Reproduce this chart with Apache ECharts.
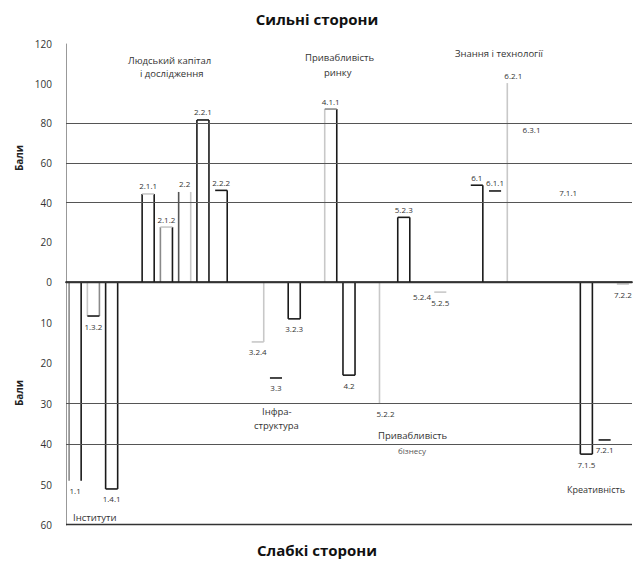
<!DOCTYPE html>
<html>
<head>
<meta charset="utf-8">
<script src="https://cdn.jsdelivr.net/npm/echarts@6/dist/echarts.min.js"></script>
<style>html,body{margin:0;padding:0;background:#fff}#c{width:634px;height:561px}</style>
</head>
<body>
<div id="c"></div>
<script>
// ---- data ----
const categories = ['1.1','1.3.2','1.4.1',' ','2.1.1','2.1.2','2.2','2.2.1','2.2.2','  ','3.2.4','3.3','3.2.3','   ','4.1.1','4.2','    ','5.2.2','5.2.3','5.2.4','5.2.5','     ','6.1','6.1.1','6.2.1','6.3.1','      ','7.1.1','7.1.5','7.2.1','7.2.2'];
const strengths = [null,null,null,null,44.4,27.7,45.4,81.7,46.2,null,null,null,null,null,87.2,null,null,null,32.6,null,null,null,48.8,45.9,100.3,73,null,41,null,null,null];
const weaknesses = [49.1,8.4,51.1,null,null,null,null,null,null,null,14.8,23.7,9.1,null,null,23,null,30.1,null,1,2.5,null,null,null,null,null,null,null,42.5,39,0.5];
const topTicks = [0,20,40,60,80,100,120];
const bottomTicks = [0,10,20,30,40,50,60];
const topGridValues = [80,60,40];
const bottomGridValues = [30,40];
const topGroups = [['Людський капітал','і дослідження'],['Привабливість','ринку'],['Знання і технології']];
const bottomGroups = [['Інститути'],['Інфра-','структура'],['Привабливість','бізнесу'],['Креативність']];

// ---- styles (edge colours: left, right, end) ----
const K = '#1a1a1a', G = '#8a8a8a', L = '#c8c8c8', D = '#555';
const edgeStyle = {
  '2.1.1':[K,K,L], '2.1.2':[G,K,L], '2.2':[D,L,null], '2.2.1':[K,K,K], '2.2.2':[null,K,K],
  '4.1.1':[L,K,G], '5.2.3':[K,K,K], '6.1':[null,K,K], '6.1.1':[null,null,K], '6.2.1':[L,null,null],
  '1.1':[G,K,null], '1.3.2':[L,G,K], '1.4.1':[K,K,K], '3.2.4':[null,L,L], '3.3':[null,null,K],
  '3.2.3':[K,K,K], '4.2':[K,K,K], '5.2.2':[L,null,null], '5.2.5':[null,null,L],
  '7.1.5':[K,K,K], '7.2.1':[null,null,K], '7.2.2':[null,null,L]
};
const FONT = 'Open Sans';

function makeRender(isTop) {
  return function (params, api) {
    const idx = api.value(0), val = api.value(1);
    const base = api.coord([idx, 0]);
    const end = api.coord([idx, val]);
    const band = api.size([1, 0])[0];
    const w = band * 0.66;
    const x0 = base[0] - w / 2, x1 = base[0] + w / 2;
    const code = categories[idx];
    const st = edgeStyle[code] || [null, null, null];
    const ch = [];
    if (!isTop) {
      ch.push({type:'rect', shape:{x:x0, y:Math.min(base[1], end[1]), width:w, height:Math.abs(end[1]-base[1])}, style:{fill:'#fff'}});
    }
    const lw = 1.6;
    if (st[0]) ch.push({type:'line', shape:{x1:x0, y1:base[1], x2:x0, y2:end[1]}, style:{stroke:st[0], lineWidth:lw}});
    if (st[1]) ch.push({type:'line', shape:{x1:x1, y1:base[1], x2:x1, y2:end[1]}, style:{stroke:st[1], lineWidth:lw}});
    if (st[2]) ch.push({type:'line', shape:{x1:x0, y1:end[1], x2:x1, y2:end[1]}, style:{stroke:st[2], lineWidth:lw}});
    ch.push({type:'text', style:{text:code, x:base[0], y:isTop ? end[1]-8 : end[1]+10, align:'center', verticalAlign:'middle', font:'8px "' + FONT + '"', fill:'#333'}});
    return {type:'group', children: ch};
  };
}

const topData = [], botData = [];
categories.forEach((c, i) => {
  if (strengths[i] != null) topData.push([i, strengths[i]]);
  if (weaknesses[i] != null) botData.push([i, weaknesses[i]]);
});

const txt = (x, y, t, size, color) => ({type:'text', left:x, top:y, style:{text:t, font:size + 'px "' + FONT + '"', fill:color || '#333'}});

const chart = echarts.init(document.getElementById('c'), null, {renderer:'svg'});
const tickLabel = {fontFamily:FONT, fontSize:10, color:'#333', margin:14};
chart.setOption({
  animation:false,
  title:[
    {text:'Сильні сторони', left:'center', top:6, textStyle:{fontFamily:FONT, fontSize:15, fontWeight:'bold', color:'#111'}},
    {text:'Слабкі сторони', left:'center', top:537, textStyle:{fontFamily:FONT, fontSize:15, fontWeight:'bold', color:'#111'}}
  ],
  grid:[
    {left:66, right:2, top:44, height:238},
    {left:66, right:2, top:282, height:243}
  ],
  xAxis:[
    {gridIndex:0, type:'category', data:categories, position:'bottom', z:10,
     axisLine:{onZero:false, lineStyle:{color:'#111', width:1.5}}, axisTick:{show:false}, axisLabel:{show:false}},
    {gridIndex:1, type:'category', data:categories, position:'top', z:10,
     axisLine:{show:true, onZero:false, lineStyle:{color:'#333', width:1.4}}, axisTick:{show:false}, axisLabel:{show:false}}
  ],
  yAxis:[
    {gridIndex:0, type:'value', min:0, max:120, interval:20,
     axisLine:{show:true, lineStyle:{color:'#999'}}, axisTick:{show:false}, splitLine:{show:false},
     axisLabel:Object.assign({formatter: v => topTicks.includes(v) ? String(v) : ''}, tickLabel)},
    {gridIndex:1, type:'value', min:0, max:60, interval:10, inverse:true,
     axisLine:{show:true, lineStyle:{color:'#999'}}, axisTick:{show:false}, splitLine:{show:false},
     axisLabel:Object.assign({showMinLabel:false, formatter: v => bottomTicks.includes(v) && v !== 0 ? String(v) : ''}, tickLabel)}
  ],
  series:[
    {type:'line', xAxisIndex:0, yAxisIndex:0, data:[], z:1, silent:true,
     markLine:{silent:true, symbol:'none', label:{show:false}, lineStyle:{color:'#555', width:1.2, type:'solid'},
       data: topGridValues.map(v => ({yAxis:v}))}},
    {type:'line', xAxisIndex:1, yAxisIndex:1, data:[], z:1, silent:true,
     markLine:{silent:true, symbol:'none', label:{show:false}, lineStyle:{color:'#555', width:1.2, type:'solid'},
       data: bottomGridValues.map(v => ({yAxis:v})).concat([{yAxis:59.8, lineStyle:{color:'#333', width:1.4}}])}},
    {type:'custom', xAxisIndex:0, yAxisIndex:0, z:3, renderItem:makeRender(true), data:topData},
    {type:'custom', xAxisIndex:1, yAxisIndex:1, z:3, renderItem:makeRender(false), data:botData}
  ],
  graphic:[
    {type:'text', left:14, top:145, rotation:Math.PI/2, style:{text:'Бали', font:'bold 10px "' + FONT + '"', fill:'#222'}},
    {type:'text', left:14, top:380, rotation:Math.PI/2, style:{text:'Бали', font:'bold 10px "' + FONT + '"', fill:'#222'}},
    txt(128, 55, topGroups[0][0], 9.5), txt(140, 68, topGroups[0][1], 9.5),
    txt(305, 52, topGroups[1][0], 9.5), txt(324, 67, topGroups[1][1], 9.5),
    txt(455, 48, topGroups[2][0], 9.5),
    txt(73, 512, bottomGroups[0][0], 9.5),
    txt(262, 406, bottomGroups[1][0], 9.5), txt(254, 420, bottomGroups[1][1], 9.5),
    txt(378, 430, bottomGroups[2][0], 9.5), txt(398, 446, bottomGroups[2][1], 8, '#555'),
    txt(567, 485, bottomGroups[3][0], 9)
  ]
});
</script>
</body>
</html>
